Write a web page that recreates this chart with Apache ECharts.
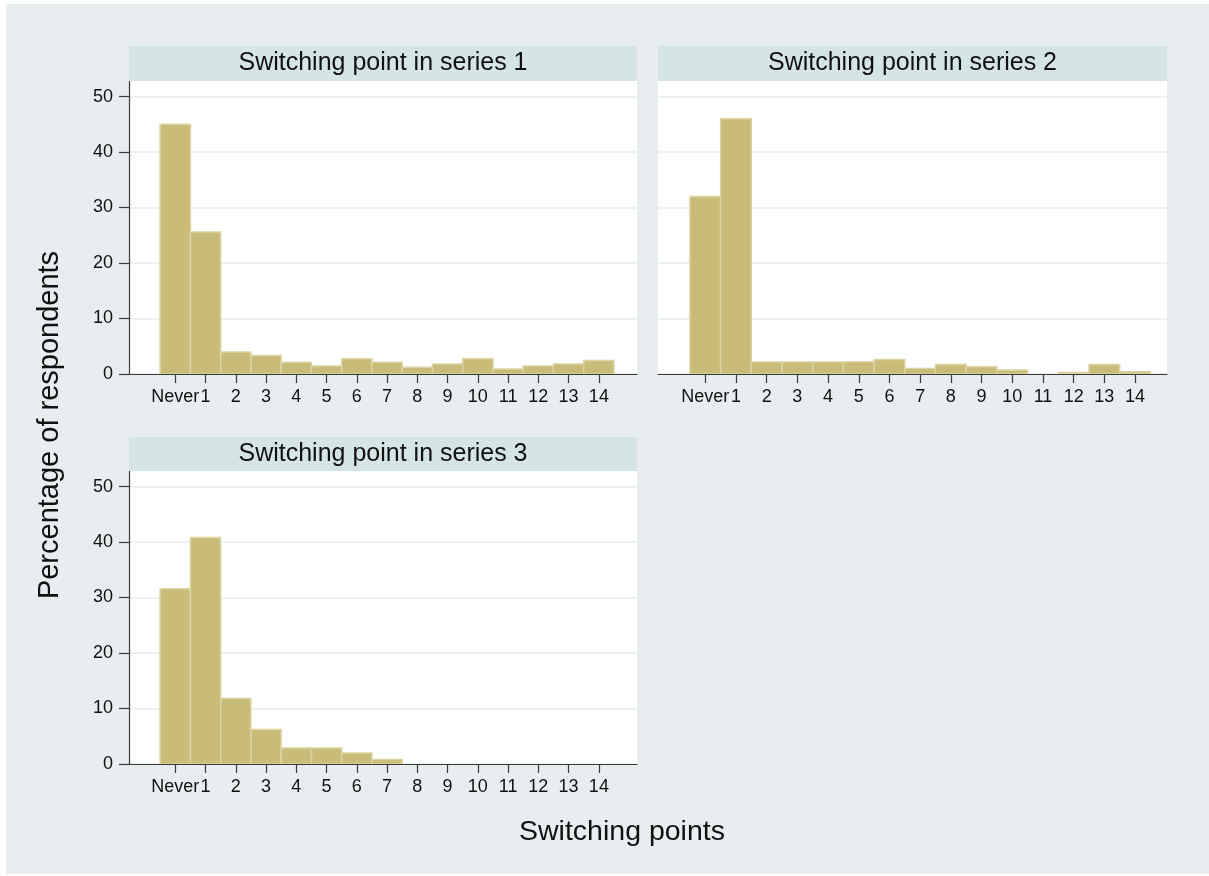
<!DOCTYPE html>
<html>
<head>
<meta charset="utf-8">
<script src="https://cdn.jsdelivr.net/npm/echarts@6/dist/echarts.min.js"></script>
<style>
  html, body { margin: 0; padding: 0; background: #ffffff; }
  #chart { width: 1209px; height: 876px; }
</style>
</head>
<body>
<div id="chart"></div>
<script>
// Switching-point categories along the x axis
const categories = ['Never', '1', '2', '3', '4', '5', '6', '7', '8', '9', '10', '11', '12', '13', '14'];

// Percentage of respondents in each category
const series1Values = [45.0, 25.6, 3.95, 3.35, 2.1, 1.45, 2.75, 2.1, 1.2, 1.8, 2.75, 0.9, 1.45, 1.8, 2.45];
const series2Values = [32.0, 46.0, 2.15, 2.15, 2.15, 2.2, 2.6, 1.0, 1.7, 1.3, 0.7, 0, 0.25, 1.7, 0.4];
const series3Values = [31.6, 40.8, 11.8, 6.2, 2.9, 2.9, 2.0, 0.8, 0, 0, 0, 0, 0, 0, 0];

const panelTitles = ['Switching point in series 1', 'Switching point in series 2', 'Switching point in series 3'];
const yTickValues = [0, 10, 20, 30, 40, 50];
const xTickValues = categories.map((c, i) => i);

const xAxisTitle = 'Switching points';
const yAxisTitle = 'Percentage of respondents';

// Panel geometry (pixels) and axis ranges
const panels = [
  { left: 129, top: 81, width: 508, height: 293, stripTop: 46, xMin: -1.53, xMax: 15.26, showY: true, values: series1Values },
  { left: 658, top: 81, width: 509, height: 293, stripTop: 46, xMin: -1.54, xMax: 15.04, showY: false, values: series2Values },
  { left: 129, top: 471, width: 508, height: 293, stripTop: 437, xMin: -1.53, xMax: 15.26, showY: true, values: series3Values }
];
const yMax = 52.8;

const FONT = '"Liberation Sans", Arial, Helvetica, sans-serif';
const BG = '#e8eef0';
const STRIP = '#d5e4e4';
const BAR_FILL = '#c9bc79';
const BAR_EDGE = '#dcd4a3';
const AXIS = '#3a3a3a';
const GRIDLINE = '#e6ecee';

const grids = [], xAxes = [], yAxes = [], seriesList = [];
const graphics = [
  { type: 'rect', z: -10, silent: true, shape: { x: 6, y: 4, width: 1203, height: 870 }, style: { fill: BG } }
];

panels.forEach((p, i) => {
  grids.push({
    left: p.left, top: p.top, width: p.width, height: p.height,
    show: true, backgroundColor: '#ffffff', borderWidth: 0, containLabel: false
  });
  xAxes.push({
    type: 'value', gridIndex: i, min: p.xMin, max: p.xMax, position: 'bottom',
    axisLine: { show: true, onZero: false, lineStyle: { color: AXIS, width: 1.2 } },
    axisTick: { show: true, length: 9, customValues: xTickValues, lineStyle: { color: AXIS, width: 1.2 } },
    axisLabel: {
      show: true, customValues: xTickValues, margin: 14, fontSize: 18, color: '#111',
      fontFamily: FONT, formatter: v => categories[Math.round(v)] ?? ''
    },
    splitLine: { show: false }
  });
  yAxes.push({
    type: 'value', gridIndex: i, min: 0, max: yMax, position: 'left',
    axisLine: { show: p.showY, onZero: false, lineStyle: { color: AXIS, width: 1.2 } },
    axisTick: { show: p.showY, length: 10, customValues: yTickValues, lineStyle: { color: AXIS, width: 1.2 } },
    axisLabel: {
      show: p.showY, customValues: yTickValues, margin: 16, fontSize: 18, color: '#111',
      fontFamily: FONT, formatter: v => (yTickValues.includes(v) ? String(v) : '')
    },
    splitLine: { show: true, lineStyle: { color: GRIDLINE, width: 1.5 } }
  });
  seriesList.push({
    type: 'custom', xAxisIndex: i, yAxisIndex: i,
    data: p.values.map((v, k) => [k, v]),
    encode: { x: 0, y: 1 },
    clip: true,
    renderItem: (params, api) => {
      const x = api.value(0), y = api.value(1);
      if (!(y > 0)) return null;
      const topLeft = api.coord([x - 0.5, y]);
      const bottomRight = api.coord([x + 0.5, 0]);
      return {
        type: 'rect',
        shape: { x: topLeft[0], y: topLeft[1], width: bottomRight[0] - topLeft[0], height: bottomRight[1] - topLeft[1] },
        style: { fill: BAR_FILL, stroke: BAR_EDGE, lineWidth: 1.5 }
      };
    }
  });
  // Panel title strip
  graphics.push({
    type: 'rect', silent: true, z: 5,
    shape: { x: p.left, y: p.stripTop, width: p.width, height: p.top - p.stripTop },
    style: { fill: STRIP }
  });
  graphics.push({
    type: 'text', silent: true, z: 6,
    x: p.left + p.width / 2, y: p.stripTop + (p.top - p.stripTop) / 2,
    style: { text: panelTitles[i], fill: '#111', font: '25px ' + FONT, textAlign: 'center', textVerticalAlign: 'middle' }
  });
});

// Shared axis titles
graphics.push({
  type: 'text', silent: true, z: 6, x: 622, y: 832,
  style: { text: xAxisTitle, fill: '#111', font: '28.5px ' + FONT, textAlign: 'center', textVerticalAlign: 'middle' }
});
graphics.push({
  type: 'text', silent: true, z: 6, x: 50, y: 425, rotation: Math.PI / 2,
  style: { text: yAxisTitle, fill: '#111', font: '29px ' + FONT, textAlign: 'center', textVerticalAlign: 'middle' }
});

const chart = echarts.init(document.getElementById('chart'), null, { renderer: 'canvas' });
chart.setOption({
  backgroundColor: 'transparent',
  animation: false,
  textStyle: { fontFamily: FONT },
  grid: grids,
  xAxis: xAxes,
  yAxis: yAxes,
  series: seriesList,
  graphic: { elements: graphics }
});
</script>
</body>
</html>
